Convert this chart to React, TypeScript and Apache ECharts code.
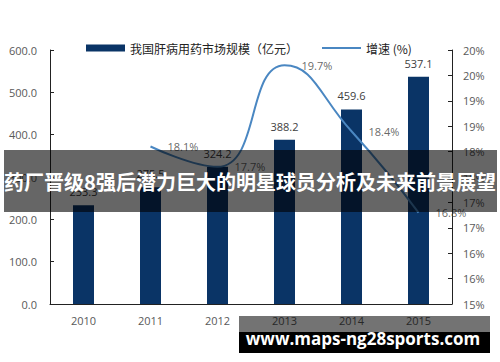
import React, { useEffect, useRef } from "react";
import * as echarts from "echarts";

const years = ["2010", "2011", "2012", "2013", "2014", "2015"];
const marketSize = [233.3, 275.5, 324.2, 388.2, 459.6, 537.1];
const growth = [null, 18.1, 17.7, 19.7, 18.4, 16.8];
const barName = "我国肝病用药市场规模（亿元）";
const lineName = "增速 (%)";
const bannerText = "药厂晋级8强后潜力巨大的明星球员分析及未来前景展望";
const watermark = "www.maps-ng28sports.com";

export default function App() {
  const ref = useRef<HTMLDivElement>(null);
  useEffect(() => {
    const chart = echarts.init(ref.current!, null, { renderer: "svg" });
    const font = "'Noto Sans CJK SC', 'Noto Sans', sans-serif";
    const axisLabel = { color: "#595959", fontSize: 11, fontFamily: "'Open Sans', 'Noto Sans', sans-serif" };
    const lineColor = "#4a87c2";
    chart.setOption({
      animation: false,
      backgroundColor: "#ffffff",
      grid: { left: 50, right: 48, top: 50, bottom: 58 },
      legend: {
        left: 81,
        top: 37,
        itemWidth: 39,
        itemHeight: 7,
        itemGap: 24,
        textStyle: { color: "#222", fontSize: 12, fontFamily: font },
        data: [
          { name: barName, icon: "rect" },
          {
            name: lineName,
            icon: "path://M0,0H0.01V0.01H0Z M0,2.5H39V4.5H0Z M0,6.99H0.01V7H0Z",
            itemStyle: { color: lineColor },
          },
        ],
      },
      xAxis: {
        type: "category",
        data: years,
        axisLine: { lineStyle: { color: "#222", width: 1 } },
        axisTick: { inside: true, length: 4, alignWithLabel: false, lineStyle: { color: "#222" } },
        axisLabel: { ...axisLabel, margin: 11 },
      },
      yAxis: [
        {
          type: "value",
          min: 0,
          max: 600,
          interval: 100,
          splitLine: { show: false },
          axisLine: { show: true, lineStyle: { color: "#222", width: 1 } },
          axisTick: { show: true, inside: true, length: 4, lineStyle: { color: "#222" } },
          axisLabel: { ...axisLabel, margin: 13, formatter: (v: number) => v.toFixed(1) },
        },
        {
          type: "value",
          min: 15,
          max: 20,
          interval: 0.5,
          splitLine: { show: false },
          axisLine: { show: true, lineStyle: { color: "#222", width: 1 } },
          axisTick: { show: true, inside: true, length: 4, lineStyle: { color: "#222" } },
          axisLabel: { ...axisLabel, margin: 11, formatter: (v: number) => Math.round(v) + "%" },
        },
      ],
      series: [
        {
          name: barName,
          type: "bar",
          data: marketSize,
          barWidth: 21,
          itemStyle: { color: "#0a3466" },
          label: {
            show: true,
            position: "top",
            distance: 8,
            color: "#404040",
            fontSize: 11,
            fontFamily: axisLabel.fontFamily,
            formatter: (p: any) => p.value.toFixed(1),
          },
        },
        {
          name: lineName,
          type: "line",
          yAxisIndex: 1,
          data: growth,
          smooth: 0.5,
          symbol: "none",
          lineStyle: { color: lineColor, width: 2 },
          itemStyle: { color: lineColor },
        },
        {
          name: "growthLabels",
          type: "scatter",
          yAxisIndex: 1,
          data: growth,
          symbolSize: 2,
          itemStyle: { color: "rgba(0,0,0,0)" },
          silent: true,
          label: {
            show: true,
            position: "right",
            distance: 16,
            color: "#404040",
            fontSize: 11,
            fontFamily: axisLabel.fontFamily,
            formatter: (p: any) => p.value.toFixed(1) + "%",
          },
        },
      ],
      graphic: [
        {
          type: "rect",
          z: 100,
          shape: { x: 4, y: 150, width: 493, height: 62 },
          style: { fill: "rgba(0,0,0,0.6)" },
        },
        {
          type: "text",
          z: 101,
          x: 250,
          y: 181,
          style: {
            text: bannerText,
            fill: "#ffffff",
            font: "bold 20px 'Noto Sans CJK SC', sans-serif",
            align: "center",
            verticalAlign: "middle",
          },
        },
        {
          type: "rect",
          z: 100,
          shape: { x: 239, y: 316, width: 251, height: 16 },
          style: { fill: "rgba(0,0,0,0.55)" },
        },
        {
          type: "rect",
          z: 100,
          shape: { x: 239, y: 332, width: 251, height: 21 },
          style: { fill: "#000000" },
        },
        {
          type: "text",
          z: 101,
          x: 363,
          y: 338,
          style: {
            text: watermark,
            fill: "#ffffff",
            font: "bold 17px 'Open Sans', sans-serif",
            align: "center",
            verticalAlign: "middle",
          },
        },
      ],
    });
    return () => chart.dispose();
  }, []);
  return (
    <div
      ref={ref}
      style={{ position: "absolute", left: 0, top: 0, width: 500, height: 362 }}
    />
  );
}
